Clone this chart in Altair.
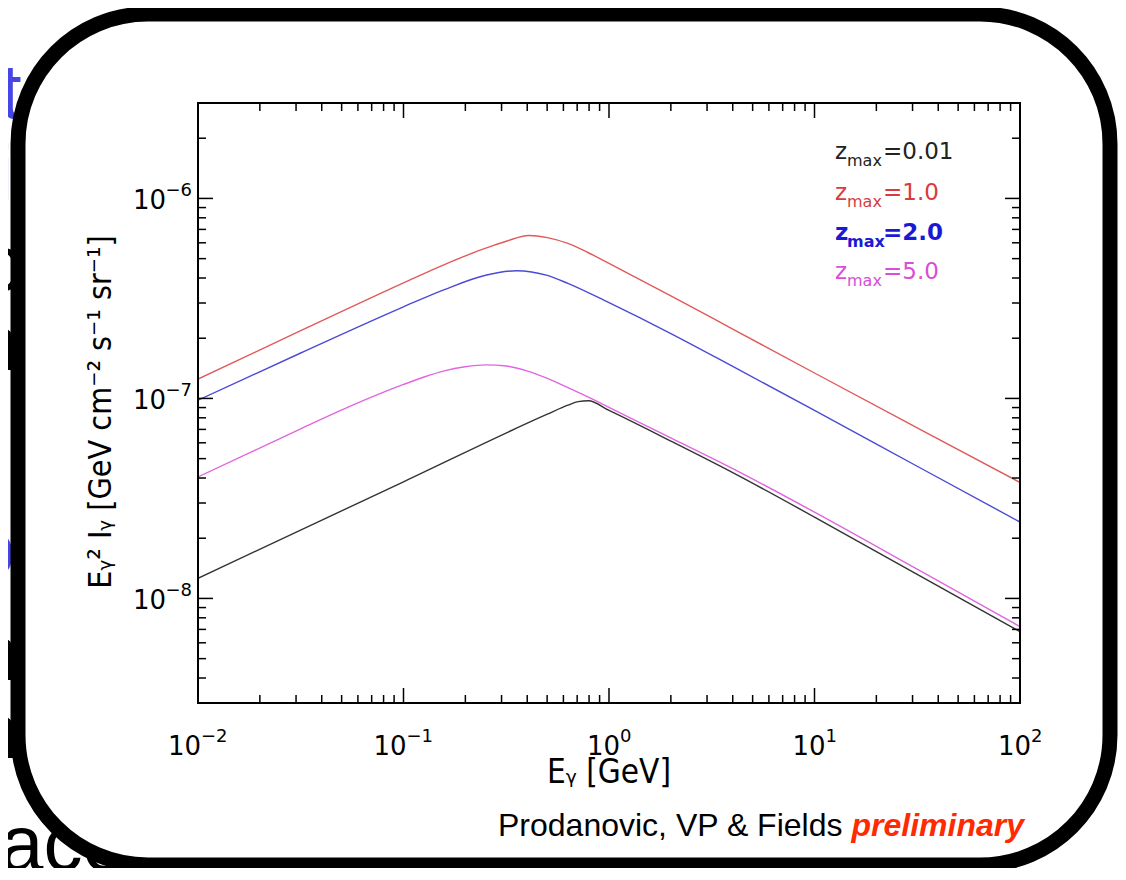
import altair as alt
import pandas as pd

# ---------------- data ----------------
SERIES = ["zmax=0.01", "zmax=1.0", "zmax=2.0", "zmax=5.0"]
COLORS = ["#333333", "#e05a5a", "#4a4ad6", "#e066e0"]

E_001 = [0.01, 0.1, 0.501, 0.631, 0.708, 0.794, 1, 2, 3.98, 10, 31.6, 100]
F_001 = [1.26e-8, 3.83e-8, 8.34e-8, 9.25e-8, 9.64e-8, 9.73e-8,
         8.71e-8, 6.12e-8, 4.27e-8, 2.55e-8, 1.32e-8, 6.82e-9]

E_1 = [0.01, 0.0316, 0.1, 0.158, 0.251, 0.316, 0.407, 0.501, 0.631, 0.794, 1, 2, 3.98, 10, 31.6, 100]
F_1 = [1.25e-7, 2.18e-7, 3.78e-7, 4.67e-7, 5.64e-7, 6.11e-7, 6.53e-7, 6.37e-7, 5.96e-7,
       5.35e-7, 4.73e-7, 3.26e-7, 2.23e-7, 1.34e-7, 7.13e-8, 3.8e-8]

E_2 = [0.01, 0.0316, 0.1, 0.158, 0.251, 0.355, 0.501, 0.631, 1, 2, 3.98, 10, 31.6, 100]
F_2 = [9.8e-8, 1.687e-7, 2.87e-7, 3.50e-7, 4.13e-7, 4.35e-7, 4.12e-7, 3.76e-7,
       3.01e-7, 2.11e-7, 1.45e-7, 8.71e-8, 4.58e-8, 2.41e-8]

E_5 = [0.01, 0.0316, 0.0562, 0.1, 0.126, 0.158, 0.1995, 0.251, 0.316, 0.398, 0.501, 0.631,
       0.794, 1, 2, 3.98, 10, 31.6, 100]
F_5 = [4.05e-8, 7.05e-8, 9.23e-8, 1.175e-7, 1.28e-7, 1.374e-7, 1.439e-7, 1.472e-7, 1.452e-7,
       1.374e-7, 1.259e-7, 1.132e-7, 1.014e-7, 9.02e-8, 6.35e-8, 4.47e-8, 2.70e-8, 1.40e-8, 7.23e-9]

X_MAJOR = [0.01, 0.1, 1, 10, 100]
X_EXP = ["\u22122", "\u22121", "0", "1", "2"]
X_MINOR = [m * 10.0 ** k for k in range(-2, 2) for m in range(2, 10)]
Y_MAJOR = [1e-8, 1e-7, 1e-6]
Y_EXP = ["\u22128", "\u22127", "\u22126"]
Y_MINOR = [m * 10.0 ** k for k in range(-9, -5) for m in range(2, 10)
           if 3e-9 <= m * 10.0 ** k <= 3e-6]

LEGEND_VALUES = ["=0.01", "=1.0", "=2.0", "=5.0"]
LEGEND_COLORS = ["#222222", "#d63c3c", "#1a1ad6", "#d84ed8"]

rows = []
for name, es, fs in zip(SERIES, [E_001, E_1, E_2, E_5], [F_001, F_1, F_2, F_5]):
    for e, f in zip(es, fs):
        rows.append({"series": name, "E": e, "F": f})
df = pd.DataFrame(rows)

# ---------------- layout ----------------
W, H = 822, 600
xscale = alt.Scale(type="log", domain=[0.01, 100], nice=False)
yscale = alt.Scale(type="log", domain=[3e-9, 3e-6], nice=False)
ONE = alt.InlineData(values=[{}])


def txt(text, x, y, **kw):
    return alt.Chart(ONE).mark_text(text=text, **kw).encode(x=alt.value(x), y=alt.value(y))


layers = []

# slide text peeking out behind the frame
SLIDE_FONT = "Liberation Sans"
BLUE_SLIDE = "#4646e6"
frag = [("t", -198, 15, BLUE_SLIDE), ("i", -202, 97, BLUE_SLIDE), ("c", -216, 187, "black"),
        ("n", -223, 267, "black"), ("o", -226, 472, BLUE_SLIDE), ("n", -223, 577, "black"),
        ("n", -223, 655, "black"), ("ace", -198, 767, "black")]
for t, x, y, c in frag:
    layers.append(txt(t, x, y, align="left", baseline="alphabetic", font=SLIDE_FONT,
                      fontSize=78, color=c))

# rounded slide frame
layers.append(alt.Chart(ONE).mark_rect(cornerRadius=130, fill="white", stroke="black",
                                       strokeWidth=15).encode(
    x=alt.value(-180), x2=alt.value(912), y=alt.value(-89), y2=alt.value(762)))

# curves
layers.append(alt.Chart(df).mark_line(strokeWidth=1.4, interpolate="monotone", clip=True).encode(
    x=alt.X("E:Q", scale=xscale, axis=None),
    y=alt.Y("F:Q", scale=yscale, axis=None),
    color=alt.Color("series:N", scale=alt.Scale(domain=SERIES, range=COLORS), legend=None),
))

# plot box
layers.append(alt.Chart(ONE).mark_rect(filled=False, stroke="black", strokeWidth=2).encode(
    x=alt.value(0), x2=alt.value(W), y=alt.value(0), y2=alt.value(H)))

# inward ticks
for vals, ln in [(X_MAJOR, 15), (X_MINOR, 8)]:
    base = alt.Chart(pd.DataFrame({"v": vals}))
    xe = alt.X("v:Q", scale=xscale, axis=None)
    layers.append(base.mark_rule(color="black", strokeWidth=1.5).encode(
        x=xe, y=alt.value(H), y2=alt.value(H - ln)))
    layers.append(base.mark_rule(color="black", strokeWidth=1.5).encode(
        x=xe, y=alt.value(0), y2=alt.value(ln)))
for vals, ln in [(Y_MAJOR, 15), (Y_MINOR, 8)]:
    base = alt.Chart(pd.DataFrame({"v": vals}))
    ye = alt.Y("v:Q", scale=yscale, axis=None)
    layers.append(base.mark_rule(color="black", strokeWidth=1.5).encode(
        y=ye, x=alt.value(0), x2=alt.value(ln)))
    layers.append(base.mark_rule(color="black", strokeWidth=1.5).encode(
        y=ye, x=alt.value(W), x2=alt.value(W - ln)))

# tick labels: "10" with a raised exponent
LBL_FONT = "DejaVu Sans"
BASE_SIZE, EXP_SIZE = 26, 18
xl = pd.DataFrame({"v": X_MAJOR, "e": X_EXP, "neg": [e.startswith("\u2212") for e in X_EXP]})
for neg, shift in [(True, 3), (False, 11)]:
    b = alt.Chart(xl).transform_filter(alt.datum.neg == neg)
    xe = alt.X("v:Q", scale=xscale, axis=None)
    layers.append(b.mark_text(text="10", font=LBL_FONT, fontSize=BASE_SIZE, align="right",
                              baseline="alphabetic", dx=shift, color="black").encode(
        x=xe, y=alt.value(652)))
    layers.append(b.mark_text(font=LBL_FONT, fontSize=EXP_SIZE, align="left",
                              baseline="alphabetic", dx=shift, color="black").encode(
        x=xe, y=alt.value(639), text="e:N"))
yl = alt.Chart(pd.DataFrame({"v": Y_MAJOR, "e": Y_EXP}))
ye = alt.Y("v:Q", scale=yscale, axis=None)
layers.append(yl.mark_text(text="10", font=LBL_FONT, fontSize=BASE_SIZE, align="right",
                           baseline="alphabetic", dy=11, color="black").encode(
    y=ye, x=alt.value(-32)))
layers.append(yl.mark_text(font=LBL_FONT, fontSize=EXP_SIZE, align="right",
                           baseline="alphabetic", dy=-2, color="black").encode(
    y=ye, x=alt.value(-6), text="e:N"))

# axis titles
layers.append(txt("E\u1d67 [GeV]", 411, 680, font="DejaVu Sans Condensed", fontSize=33,
                  align="center", baseline="alphabetic", color="black"))
layers.append(txt("E\u1d67\u00b2 I\u1d67 [GeV cm\u207b\u00b2 s\u207b\u00b9 sr\u207b\u00b9]", -97, 309,
                  font="DejaVu Sans Condensed", fontSize=32, angle=270, align="center",
                  baseline="middle", color="black"))

# legend
LEG_BASE = [56, 97, 137, 176]
for val, col, b in zip(LEGEND_VALUES, LEGEND_COLORS, LEG_BASE):
    wt = "bold" if val == "=2.0" else "normal"
    layers.append(txt("z", 637, b, font=LBL_FONT, fontSize=23, align="left",
                      baseline="alphabetic", color=col, fontWeight=wt))
    layers.append(txt("max", 649, b + 7, font=LBL_FONT, fontSize=16, align="left",
                      baseline="alphabetic", color=col, fontWeight=wt))
    layers.append(txt(val, 685, b, font=LBL_FONT, fontSize=23, align="left",
                      baseline="alphabetic", color=col, fontWeight=wt))

# credit line
layers.append(txt("Prodanovic, VP & Fields", 300, 733, font="Liberation Sans", fontSize=32,
                  align="left", baseline="alphabetic", color="black"))
layers.append(txt("preliminary", 826, 733, font="Liberation Sans", fontSize=32,
                  fontWeight="bold", fontStyle="italic", align="right", baseline="alphabetic",
                  color="#ff2a00"))

chart = alt.layer(*layers).properties(
    width=W, height=H,
    autosize=alt.AutoSizeParams(type="none"),
    padding={"left": 190, "top": 95, "right": 98, "bottom": 165},
    background="white",
).configure_view(stroke="transparent")

chart.save("out.html", embed_options={"renderer": "svg", "actions": False})
